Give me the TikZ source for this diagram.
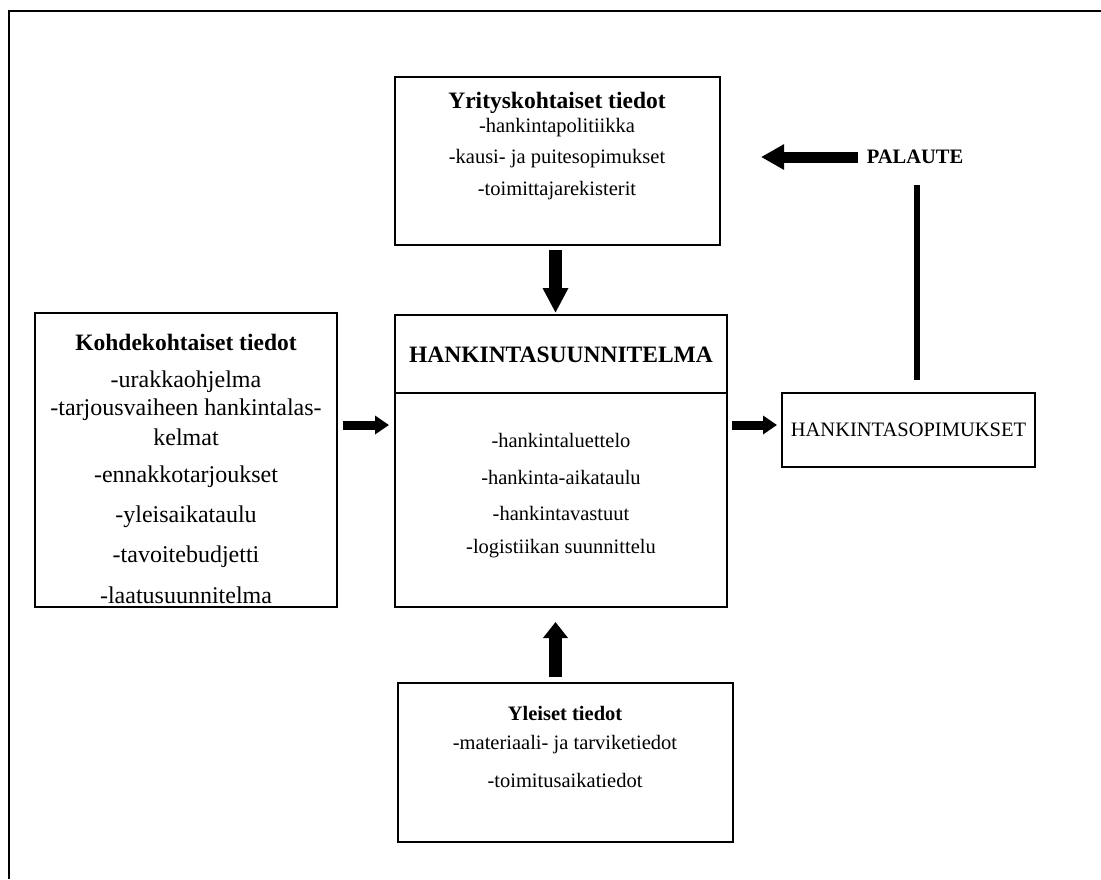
\documentclass[tikz,border=0pt]{standalone}
\usepackage{fontspec}
\setmainfont{Liberation Serif}
\usetikzlibrary{arrows.meta}
\begin{document}
\begin{tikzpicture}[x=1pt,y=-1pt,
  box/.style={draw,line width=2pt,inner sep=0pt},
  txt/.style={inner sep=0pt,font=\fontsize{20.5}{24}\selectfont},
  bigtxt/.style={inner sep=0pt,font=\fontsize{24}{28}\selectfont},
  ttl/.style={inner sep=0pt,font=\fontsize{20.5}{24}\selectfont\bfseries},
  bigttl/.style={inner sep=0pt,font=\fontsize{23.5}{28}\selectfont\bfseries},
  blockv/.style={line width=13pt,-{Triangle[width=24pt,length=25pt]}},
  blockh/.style={line width=9pt,-{Triangle[width=18pt,length=14pt]}}]
\useasboundingbox (0,0) rectangle (1101,879);
\draw[line width=2.5pt] (9,879) -- (9,11) -- (1101,11);
% boxes
\node[box,minimum width=325pt,minimum height=168pt] (top) at (557.5,161) {};
\node[box,minimum width=332pt,minimum height=292pt] (cen) at (561,461) {};
\node[box,minimum width=302pt,minimum height=294pt] (lb) at (186,460) {};
\node[box,minimum width=253pt,minimum height=74pt] (rb) at (908.5,430) {};
\node[box,minimum width=335pt,minimum height=159pt] (bot) at (565.5,762.5) {};
\draw[line width=2pt] (cen.west |- 0,393) -- (cen.east |- 0,393);
% top box text
\node[bigttl] (t0) at (557,103) {Yrityskohtaiset tiedot};
\node[txt] (t1) at (557,128) {-hankintapolitiikka};
\node[txt] (t2) at (557,159) {-kausi- ja puitesopimukset};
\node[txt] (t3) at (557,191) {-toimittajarekisterit};
% center text
\node[bigttl] (c0) at (561,355) {HANKINTASUUNNITELMA};
\node[txt] (c1) at (561,440) {-hankintaluettelo};
\node[txt] (c2) at (561,477) {-hankinta-aikataulu};
\node[txt] (c3) at (561,513) {-hankintavastuut};
\node[txt] (c4) at (561,549) {-logistiikan suunnittelu};
% left text
\node[bigttl] (l0) at (186,342) {Kohdekohtaiset tiedot};
\node[bigtxt] (l1) at (186,382) {-urakkaohjelma};
\node[bigtxt] (l2) at (186,410) {-tarjousvaiheen hankintalas-};
\node[bigtxt] (l3) at (186,437) {kelmat};
\node[bigtxt] (l4) at (186,477) {-ennakkotarjoukset};
\node[bigtxt] (l5) at (186,517) {-yleisaikataulu};
\node[bigtxt] (l6) at (186,557) {-tavoitebudjetti};
\node[bigtxt] (l7) at (186,595) {-laatusuunnitelma};
% right box text
\node[txt] (r0) at (908.5,430) {HANKINTASOPIMUKSET};
% bottom text
\node[ttl] (b0) at (565,713) {Yleiset tiedot};
\node[txt] (b1) at (565,745) {-materiaali- ja tarviketiedot};
\node[txt] (b2) at (565,780) {-toimitusaikatiedot};
% palaute
\node[ttl] (pal) at (915,157) {PALAUTE};
% arrows
\draw[blockv,shorten <=4pt,shorten >=1pt] (top.south -| 555.5,0) -- (cen.north -| 555.5,0);
\draw[line width=13pt,-{Triangle[width=24pt,length=16pt]},shorten <=5pt,shorten >=14pt] (bot.north -| 555.5,0) -- (cen.south -| 555.5,0);
\draw[blockh,shorten <=5pt,shorten >=5pt] ([yshift=35pt]lb.east) -- ([yshift=36pt]cen.west);
\draw[blockh,shorten <=4pt,shorten >=4pt] ([yshift=36pt]cen.east) -- ([yshift=5pt]rb.west);
\draw[line width=11pt,-{Triangle[width=24pt,length=23pt]},shorten <=9pt,shorten >=40pt] (pal.west) -- (top.east |- pal.west);
\coordinate (fb1) at (917,185);
\coordinate (fb2) at (917,380);
\draw[line width=6.5pt] (fb1) -- (fb2);
\end{tikzpicture}
\end{document}
